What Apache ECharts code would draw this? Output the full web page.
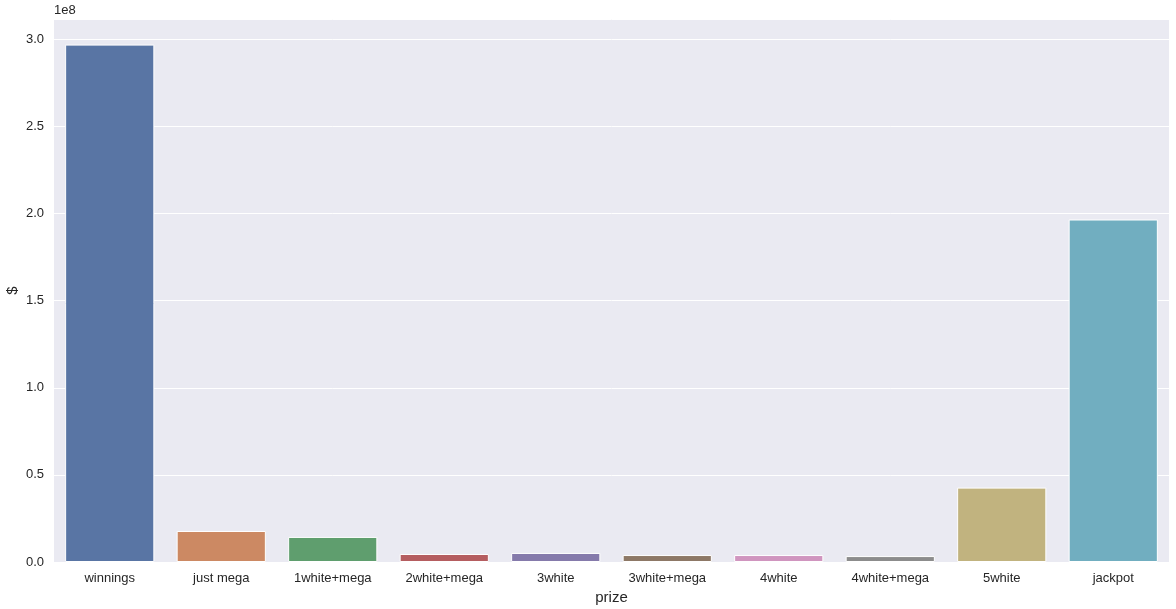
<!DOCTYPE html>
<html lang="en">
<head>
    <meta charset="utf-8" />
    <title>prize</title>
    <style>
        html, body { margin: 0; padding: 0; background: #ffffff; }
        #main { width: 1176px; height: 609px; }
    </style>
</head>
<body>
    <div id="main"></div>
    <script src="https://cdn.jsdelivr.net/npm/echarts@6/dist/echarts.min.js"></script>
    <script>
    // 奖项类别和金额（单位：美元）
    var prizes = ["winnings", "just mega", "1white+mega", "2white+mega", "3white",
                  "3white+mega", "4white", "4white+mega", "5white", "jackpot"];
    var amounts = [2.970e8, 1.78e7, 1.44e7, 4.6e6, 5.2e6,
                   4.0e6, 4.0e6, 3.4e6, 4.27e7, 1.966e8];
    var barColors = ["#5975a4", "#cc8963", "#5f9e6e", "#b55d60", "#857aab",
                     "#8d7866", "#d095bf", "#8c8c8c", "#c1b37f", "#71aec0"];
    var yMax = 3.117e8;
    var yStep = 0.5e8;

    var textColor = "#262626";
    var font = "Liberation Sans, Arial, sans-serif";

    var myChart = echarts.init(document.getElementById("main"));
    var option = {
        animation: false,
        backgroundColor: "#ffffff",
        grid: {
            left: 54,
            right: 7,
            top: 19,
            bottom: 47,
            containLabel: false,
            outerBoundsMode: "none",
            show: true,
            backgroundColor: "#eaeaf2",
            borderWidth: 0
        },
        graphic: [{
            type: "text",
            left: 54,
            top: 4,
            style: { text: "1e8", fill: textColor, font: "13px " + font }
        }],
        xAxis: {
            type: "category",
            data: prizes,
            name: "prize",
            nameLocation: "middle",
            nameGap: 28,
            nameMoveOverlap: false,
            nameTextStyle: { color: textColor, fontSize: 15, fontFamily: font },
            axisLine: { show: false },
            axisTick: { show: false },
            axisLabel: {
                color: textColor,
                fontSize: 13,
                fontFamily: font,
                interval: 0,
                margin: 10
            },
            splitLine: { show: false }
        },
        yAxis: {
            type: "value",
            min: 0,
            max: yMax,
            interval: yStep,
            name: "$",
            nameLocation: "middle",
            nameGap: 34,
            nameMoveOverlap: false,
            nameRotate: 90,
            nameTextStyle: { color: textColor, fontSize: 15, fontFamily: font },
            axisLine: { show: false },
            axisTick: { show: false },
            axisLabel: {
                color: textColor,
                fontSize: 13,
                fontFamily: font,
                margin: 10,
                showMaxLabel: false,
                formatter: function(v) {
                    return (v / 1e8).toFixed(1);
                }
            },
            splitLine: { show: true, lineStyle: { color: "#ffffff", width: 1 } }
        },
        series: [{
            type: "bar",
            data: amounts.map(function(v, i) {
                return { value: v, itemStyle: { color: barColors[i] } };
            }),
            barCategoryGap: "20%",
            itemStyle: { borderColor: "#ffffff", borderWidth: 1 }
        }]
    };
    myChart.setOption(option);
    </script>
</body>
</html>
